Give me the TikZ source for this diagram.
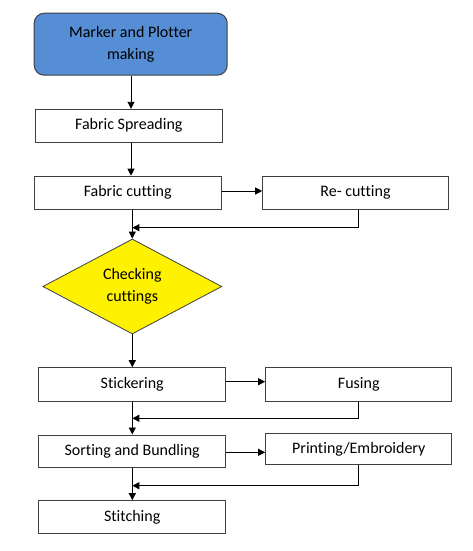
\documentclass[tikz,border=0pt]{standalone}
\usepackage{fontspec}
\setmainfont{Carlito}[Ligatures={NoCommon}]
\usetikzlibrary{shapes.geometric,arrows.meta,calc}
\definecolor{topblue}{HTML}{558ED5}
\definecolor{edgegray}{HTML}{404040}
\begin{document}
\begin{tikzpicture}[x=1pt,y=-1pt,
  every node/.style={font=\fontsize{16}{22}\selectfont, text=black, align=center, inner sep=0pt},
  box/.style={draw=edgegray, line width=1pt, fill=white, rectangle},
  topbox/.style={draw=edgegray, line width=1pt, fill=topblue, rectangle, rounded corners=10pt},
  decision/.style={draw=edgegray, line width=0.8pt, fill=yellow, diamond, aspect=1.88},
  conn/.style={draw=black, line width=0.9pt, -{Triangle[length=7pt,width=7pt]}},
  plain/.style={draw=black, line width=0.9pt}]
\useasboundingbox (0,0) rectangle (472,551);
\node[topbox, minimum width=193pt, minimum height=62pt] (marker) at (130.7,44.2) {Marker and Plotter\\making};
\node[box, minimum width=187pt, minimum height=33pt] (spread) at (128.8,125.8) {Fabric Spreading};
\node[box, minimum width=187pt, minimum height=33pt] (cut) at (127.7,192.7) {Fabric cutting};
\node[box, minimum width=185.6pt, minimum height=33pt] (recut) at (355.5,192.7) {Re- cutting};
\node[decision, minimum width=179pt, minimum height=95pt] (check) at (132.3,286.5) {Checking\\cuttings};
\node[box, minimum width=187pt, minimum height=33.6pt] (sticker) at (132.2,384.5) {Stickering};
\node[box, minimum width=186.3pt, minimum height=33.6pt] (fusing) at (358.8,384.5) {Fusing};
\node[box, minimum width=187pt, minimum height=32pt] (sort) at (132.2,451) {Sorting and Bundling};
\node[box, minimum width=186.3pt, minimum height=31pt] (print) at (358.8,449.2) {Printing/Embroidery};
\node[box, minimum width=187pt, minimum height=33pt] (stitch) at (132.2,517.2) {Stitching};
% coordinates
\coordinate (x1) at (131,0);
\coordinate (xm) at (132.3,0);
\coordinate (xr) at (358.3,0);
\coordinate (r1) at (0,227.7);
\coordinate (r2) at (0,418.3);
\coordinate (r3) at (0,485.7);
\coordinate (h1) at (0,191);
\coordinate (h2) at (0,381.7);
\coordinate (h3) at (0,452.3);
% main flow
\draw[conn] (marker.south -| x1) -- (spread.north -| x1);
\draw[conn] (spread.south -| x1) -- (cut.north -| x1);
\draw[conn] (cut.south -| xm) -- (check.north);
\draw[conn] (check.south) -- (sticker.north -| xm);
\draw[conn] (sticker.south -| xm) -- (sort.north -| xm);
\draw[conn] (sort.south -| xm) -- (stitch.north -| xm);
% side branches
\draw[conn] (cut.east |- h1) -- (recut.west |- h1);
\draw[conn] (recut.south -| xr) |- (r1 -| xm);
\draw[conn] (sticker.east |- h2) -- (fusing.west |- h2);
\draw[conn] (fusing.south -| xr) |- (r2 -| xm);
\draw[conn] (sort.east |- h3) -- (print.west |- h3);
\draw[conn] (print.south -| xr) |- (r3 -| xm);
\end{tikzpicture}
\end{document}
